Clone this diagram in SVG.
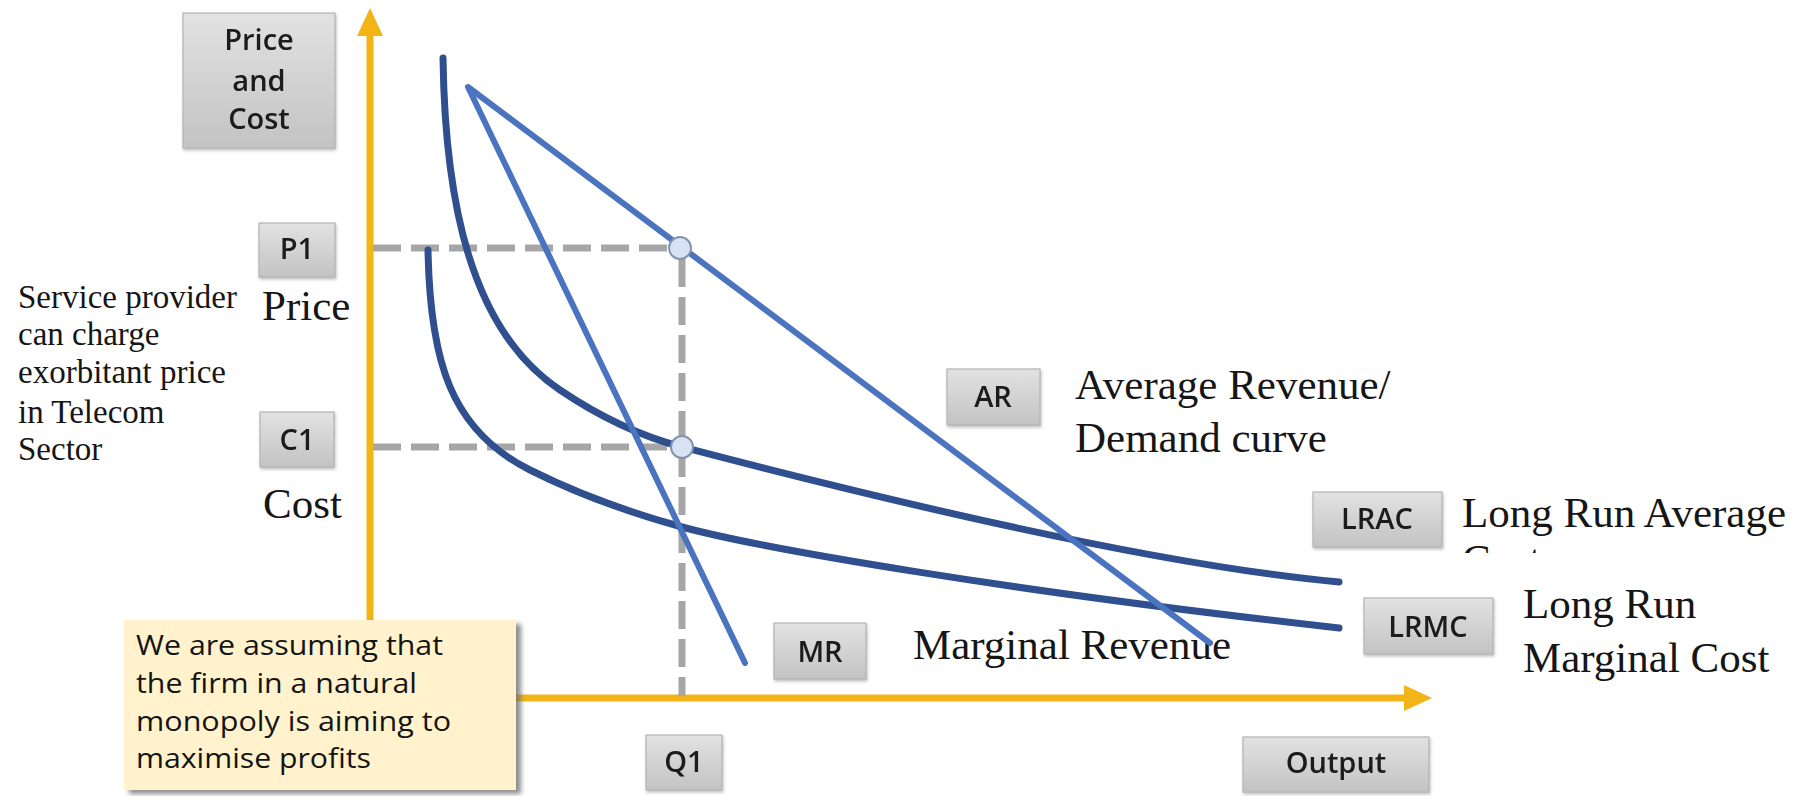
<svg xmlns="http://www.w3.org/2000/svg" width="1814" height="796" viewBox="0 0 1814 796">
<style>
.box{fill:url(#gbox);stroke:#b4b4b4;stroke-width:1.2}
.bt{font-family:"Open Sans","Liberation Sans",sans-serif;font-size:29px;font-weight:600;fill:#1a1a1a;text-anchor:middle}
.lbl{font-family:"Liberation Serif","Times New Roman",serif;font-size:43px;fill:#161616}
.side{font-family:"Liberation Serif","Times New Roman",serif;font-size:33px;fill:#161616}
.note{font-family:"Open Sans","Liberation Sans",sans-serif;font-size:28px;font-weight:500;fill:#141414}
.axis{stroke:#f2b417;stroke-width:7;fill:none}
.dash{stroke:#a6a6a6;stroke-width:7;fill:none;stroke-dasharray:28 10}
.cost{stroke:#2f4f8f;stroke-width:7;fill:none;stroke-linecap:round}
.rev{stroke:#4a74c0;stroke-width:6;fill:none;stroke-linejoin:round;stroke-linecap:round}
.pt{fill:#d8e2f3;stroke:#8393ad;stroke-width:2}
</style>
<defs>
<linearGradient id="gbox" x1="0" y1="0" x2="0" y2="1">
<stop offset="0" stop-color="#e2e2e2"/>
<stop offset="1" stop-color="#c3c3c3"/>
</linearGradient>
<filter id="sh" x="-10%" y="-10%" width="130%" height="130%">
<feDropShadow dx="5" dy="4" stdDeviation="2.5" flood-color="#6f6f6f" flood-opacity="0.8"/>
</filter>
<filter id="bsh" x="-10%" y="-10%" width="130%" height="130%">
<feDropShadow dx="1" dy="2" stdDeviation="1.5" flood-color="#9a9a9a" flood-opacity="0.6"/>
</filter>
<marker id="arr" viewBox="0 0 28 26" refX="6" refY="13" markerWidth="28" markerHeight="26" markerUnits="userSpaceOnUse" orient="auto">
<path d="M0,0 L28,13 L0,26 Z" fill="#f2b417"/>
</marker>
<clipPath id="clipCost"><rect x="1450" y="530" width="200" height="23"/></clipPath>
</defs>
<rect width="1814" height="796" fill="#ffffff"/>

<g id="labels">
<text class="lbl" x="262" y="320" font-size="41">Price</text>
<text class="lbl" x="263" y="518" font-size="42">Cost</text>
<text class="side" x="18" y="308">Service provider</text>
<text class="side" x="18" y="345">can charge</text>
<text class="side" x="18" y="383">exorbitant price</text>
<text class="side" x="18" y="423">in Telecom</text>
<text class="side" x="18" y="460">Sector</text>
<text class="lbl" x="1075" y="399">Average Revenue/</text>
<text class="lbl" x="1075" y="452">Demand curve</text>
<text class="lbl" x="1462" y="527">Long Run Average</text>
<text class="lbl" x="1462" y="574" clip-path="url(#clipCost)">Cost</text>
<text class="lbl" x="1523" y="618">Long Run</text>
<text class="lbl" x="1523" y="672">Marginal Cost</text>
<text class="lbl" x="913" y="659">Marginal Revenue</text>
</g>

<g id="connectors">
<path class="axis" d="M370,702 L370,30" marker-end="url(#arr)"/>
<path class="axis" d="M367,698 L1410,698" marker-end="url(#arr)"/>
<path class="dash" d="M373,248 L670,248"/>
<path class="dash" d="M373,447 L671,447"/>
<path class="dash" d="M682,259 L682,696"/>
<path id="lrac" class="cost" d="M443,58 C445,200 470,330 560,390 C600,417 640,436 682,447 C770,470 1120,562 1339,582"/>
<path id="lrmc" class="cost" d="M428,250 C430,360 450,430 530,470 C570,490 620,510 682,527 C760,548 1000,590 1339,628"/>
<path id="ar-mr" class="rev" d="M745,663 L468,87 L1210,643"/>
<circle class="pt" cx="680" cy="248" r="11"/>
<circle class="pt" cx="682" cy="447" r="11"/>
</g>

<g id="node-price-cost" filter="url(#bsh)">
<rect class="box" x="183" y="13" width="152" height="135"/>
<text class="bt" x="259" y="50">Price</text>
<text class="bt" x="259" y="91">and</text>
<text class="bt" x="259" y="129">Cost</text>
</g>
<g id="node-p1" filter="url(#bsh)">
<rect class="box" x="259" y="223" width="76" height="54"/>
<text class="bt" x="297" y="259">P1</text>
</g>
<g id="node-c1" filter="url(#bsh)">
<rect class="box" x="260" y="412" width="74" height="55"/>
<text class="bt" x="297" y="450">C1</text>
</g>
<g id="node-ar" filter="url(#bsh)">
<rect class="box" x="947" y="369" width="93" height="56"/>
<text class="bt" x="993" y="407">AR</text>
</g>
<g id="node-lrac" filter="url(#bsh)">
<rect class="box" x="1313" y="492" width="129" height="55"/>
<text class="bt" x="1377" y="529">LRAC</text>
</g>
<g id="node-lrmc" filter="url(#bsh)">
<rect class="box" x="1364" y="598" width="129" height="56"/>
<text class="bt" x="1428" y="637">LRMC</text>
</g>
<g id="node-mr" filter="url(#bsh)">
<rect class="box" x="774" y="623" width="92" height="56"/>
<text class="bt" x="820" y="662">MR</text>
</g>
<g id="node-q1" filter="url(#bsh)">
<rect class="box" x="646" y="735" width="76" height="55"/>
<text class="bt" x="684" y="772">Q1</text>
</g>
<g id="node-output" filter="url(#bsh)">
<rect class="box" x="1243" y="737" width="186" height="55"/>
<text class="bt" x="1336" y="773">Output</text>
</g>
<g id="node-note">
<rect x="124" y="620" width="392" height="170" fill="#fff2cc" filter="url(#sh)"/>
<text class="note" x="136" y="655" textLength="307" lengthAdjust="spacingAndGlyphs">We are assuming that</text>
<text class="note" x="136" y="693" textLength="281" lengthAdjust="spacingAndGlyphs">the firm in a natural</text>
<text class="note" x="136" y="731" textLength="315" lengthAdjust="spacingAndGlyphs">monopoly is aiming to</text>
<text class="note" x="136" y="768" textLength="235" lengthAdjust="spacingAndGlyphs">maximise profits</text>
</g>
</svg>
